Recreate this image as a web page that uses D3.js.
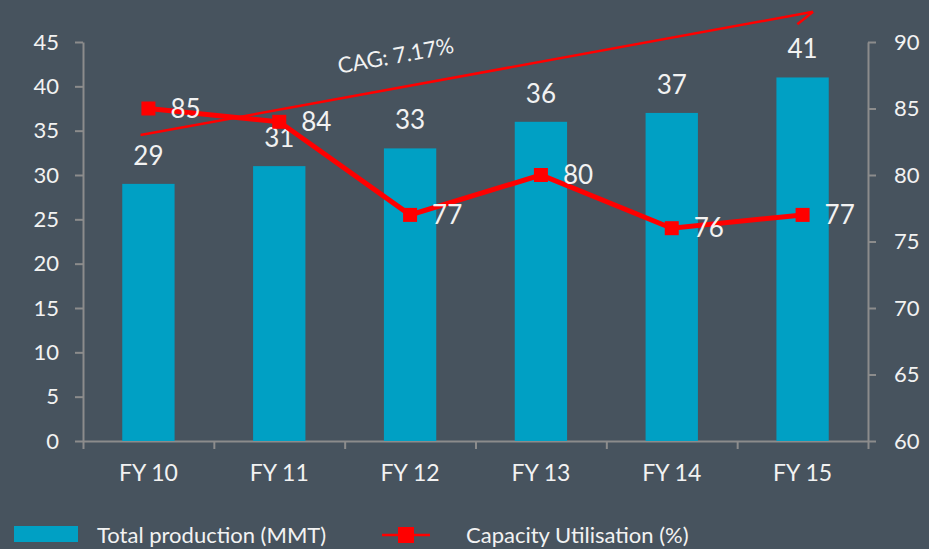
<!DOCTYPE html>
<html lang="en">
<head>
    <meta charset="utf-8">
    <title>Production and capacity utilisation</title>
    <script src="https://d3js.org/d3.v7.min.js"></script>
    <style>
        html, body { margin: 0; padding: 0; background-color: #47535e; }
        #chart { display: block; }
        text { font-family: Lato, "Open Sans", sans-serif; fill: #f2f2f2; }
        .axis path, .axis line { stroke: #8c8c8c; stroke-width: 2; }
    </style>
</head>
<body>
    <svg id="chart"></svg>

    <script type="text/javascript">
        // data
        var categories = ["FY 10", "FY 11", "FY 12", "FY 13", "FY 14", "FY 15"];
        var production = [29, 31, 33, 36, 37, 41];
        var utilisation = [85, 84, 77, 80, 76, 77];
        var leftTicks = [0, 5, 10, 15, 20, 25, 30, 35, 40, 45];
        var rightTicks = [60, 65, 70, 75, 80, 85, 90];
        var seriesNames = ["Total production (MMT)", "Capacity Utilisation (%)"];
        var cagText = "CAG: 7.17%";
        // growth arrow, in (category index, left axis value)
        var cagFrom = [-0.06, 34.5];
        var cagTo = [5.08, 48.4];
        var cagBarb = [4.96, 47.0];
        var cagLabelAt = [1.9, 42.6];

        var width = 929;
        var height = 549;
        var margin = { top: 42, right: 61, bottom: 108, left: 83 };
        var w = width - margin.left - margin.right;
        var h = height - margin.top - margin.bottom;

        var svg = d3.select("#chart")
            .attr("width", width)
            .attr("height", height);

        var g = svg.append("g")
            .attr("transform", "translate(" + margin.left + "," + margin.top + ")");

        var x = d3.scaleBand()
            .domain(categories)
            .range([0, w])
            .paddingInner(0.6)
            .paddingOuter(0.3);

        // position by index, used for boundary ticks and the arrow
        var xi = d3.scaleLinear()
            .domain([-0.5, categories.length - 0.5])
            .range([0, w]);

        var yL = d3.scaleLinear().domain([0, 45]).range([h, 0]);
        var yR = d3.scaleLinear().domain([60, 90]).range([h, 0]);

        // left axis
        var axL = g.append("g")
            .attr("class", "axis")
            .call(d3.axisLeft(yL).tickValues(leftTicks).tickSize(8).tickSizeOuter(0).tickPadding(16));
        axL.selectAll("text").style("font-size", "22px").attr("fill", "#f2f2f2");

        // right axis
        var axR = g.append("g")
            .attr("class", "axis")
            .attr("transform", "translate(" + w + ",0)")
            .call(d3.axisRight(yR).tickValues(rightTicks).tickSize(8).tickSizeOuter(0).tickPadding(18));
        axR.selectAll("text").style("font-size", "22px").attr("fill", "#f2f2f2");

        // bottom axis: boundary ticks
        g.append("g")
            .attr("class", "axis")
            .attr("transform", "translate(0," + h + ")")
            .call(d3.axisBottom(xi)
                .tickValues(d3.range(categories.length + 1).map(function(i) { return i - 0.5; }))
                .tickFormat("")
                .tickSize(8)
                .tickSizeOuter(0));

        // bottom axis: labels
        var axB = g.append("g")
            .attr("transform", "translate(0," + h + ")")
            .call(d3.axisBottom(x).tickSize(0).tickPadding(24));
        axB.select(".domain").remove();
        axB.selectAll("text").style("font-size", "23px").attr("fill", "#f2f2f2");

        // bars
        g.selectAll(".bar")
            .data(production)
            .enter()
            .append("rect")
            .attr("class", "bar")
            .attr("x", function(d, i) { return x(categories[i]); })
            .attr("y", function(d) { return yL(d); })
            .attr("width", x.bandwidth())
            .attr("height", function(d) { return h - yL(d); })
            .attr("fill", "#00a0c4");

        g.selectAll(".bar-label")
            .data(production)
            .enter()
            .append("text")
            .attr("class", "bar-label")
            .attr("x", function(d, i) { return x(categories[i]) + x.bandwidth() / 2; })
            .attr("y", function(d) { return yL(d) - 19; })
            .attr("text-anchor", "middle")
            .style("font-size", "26px")
            .text(function(d) { return d; });

        // growth arrow
        var arrow = g.append("g").attr("stroke", "#ff0000").attr("stroke-width", 2.5).attr("fill", "none");
        arrow.append("line")
            .attr("x1", xi(cagFrom[0])).attr("y1", yL(cagFrom[1]))
            .attr("x2", xi(cagTo[0])).attr("y2", yL(cagTo[1]));
        arrow.append("line")
            .attr("x1", xi(cagBarb[0])).attr("y1", yL(cagBarb[1]))
            .attr("x2", xi(cagTo[0])).attr("y2", yL(cagTo[1]));

        var ang = Math.atan2(yL(cagTo[1]) - yL(cagFrom[1]), xi(cagTo[0]) - xi(cagFrom[0])) * 180 / Math.PI;
        g.append("text")
            .attr("transform", "translate(" + xi(cagLabelAt[0]) + "," + yL(cagLabelAt[1]) + ") rotate(" + ang + ")")
            .attr("text-anchor", "middle")
            .style("font-size", "22px")
            .text(cagText);

        // utilisation line
        var line = d3.line()
            .x(function(d, i) { return x(categories[i]) + x.bandwidth() / 2; })
            .y(function(d) { return yR(d); });

        g.append("path")
            .datum(utilisation)
            .attr("d", line)
            .attr("fill", "none")
            .attr("stroke", "#ff0000")
            .attr("stroke-width", 5);

        g.selectAll(".marker")
            .data(utilisation)
            .enter()
            .append("rect")
            .attr("class", "marker")
            .attr("x", function(d, i) { return x(categories[i]) + x.bandwidth() / 2 - 7; })
            .attr("y", function(d) { return yR(d) - 7; })
            .attr("width", 14)
            .attr("height", 14)
            .attr("fill", "#ff0000");

        g.selectAll(".line-label")
            .data(utilisation)
            .enter()
            .append("text")
            .attr("class", "line-label")
            .attr("x", function(d, i) { return x(categories[i]) + x.bandwidth() / 2 + 22; })
            .attr("y", function(d) { return yR(d) + 9; })
            .style("font-size", "26px")
            .text(function(d) { return d; });

        // legend
        var legend = svg.append("g");
        legend.append("rect")
            .attr("x", 14).attr("y", 526)
            .attr("width", 64).attr("height", 16)
            .attr("fill", "#00a0c4");
        legend.append("text")
            .attr("x", 97).attr("y", 543)
            .style("font-size", "22px")
            .text(seriesNames[0]);

        legend.append("line")
            .attr("x1", 382).attr("x2", 430)
            .attr("y1", 535).attr("y2", 535)
            .attr("stroke", "#ff0000").attr("stroke-width", 2.5);
        legend.append("rect")
            .attr("x", 398).attr("y", 527)
            .attr("width", 16).attr("height", 16)
            .attr("fill", "#ff0000");
        legend.append("text")
            .attr("x", 466).attr("y", 543)
            .style("font-size", "22px")
            .text(seriesNames[1]);
    </script>
</body>
</html>
